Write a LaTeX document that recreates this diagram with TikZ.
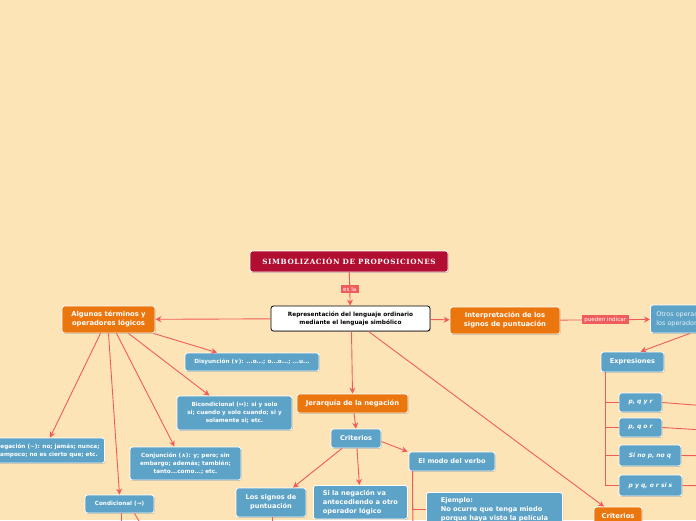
\documentclass[tikz,border=0pt]{standalone}
\usepackage{fontspec}
\setmainfont{DejaVu Sans}
\newfontfamily\titlefont[LetterSpace=8]{DejaVu Serif}
\usepackage{tikz}
\usetikzlibrary{arrows.meta,shadows}
\definecolor{paper}{RGB}{253,228,183}
\definecolor{topicorange}{RGB}{236,118,14}
\definecolor{subblue}{RGB}{93,163,199}
\definecolor{linkred}{RGB}{240,92,92}
\definecolor{titlered}{RGB}{178,14,50}

\begin{document}
\begin{tikzpicture}[
    x=1pt, y=-1pt,
    >={Stealth[length=6pt,width=6pt]},
    box/.style={rectangle, draw=white, line width=0.8pt, rounded corners=2.5pt, text=white, align=center, inner sep=2pt,
        drop shadow={shadow xshift=0.6pt, shadow yshift=-0.8pt, opacity=0.25, fill=black}},
    topic/.style={box, fill=topicorange, font=\bfseries\fontsize{6.8}{9}\selectfont},
    sub/.style={box, fill=subblue, font=\bfseries\fontsize{5.7}{7.8}\selectfont},
    bigsub/.style={box, fill=subblue, font=\bfseries\fontsize{6.6}{9}\selectfont},
    item/.style={box, fill=subblue, font=\bfseries\itshape\fontsize{6}{7}\selectfont},
    tag/.style={rectangle, fill=linkred, text=white, font=\fontsize{5.6}{6}\selectfont, inner xsep=2.5pt, inner ysep=1.8pt},
    link/.style={draw=linkred, line width=0.9pt}
]
    \clip (0,0) rectangle (696,520);
    \fill[paper] (0,0) rectangle (696,520);

    % Title and root
    \node[box, fill=titlered, minimum width=198pt, minimum height=21pt,
        font=\titlefont\bfseries\fontsize{7.2}{8}\selectfont] (title) at (349,261.5) {SIMBOLIZACIÓN DE PROPOSICIONES};
    \node[box, fill=white, draw=black, text=black, minimum width=159pt, minimum height=25pt,
        font=\bfseries\fontsize{5.8}{7.6}\selectfont] (main) at (350.5,318.5) {Representación del lenguaje ordinario\\mediante el lenguaje simbólico};
    \draw[link, ->] (title) -- node[tag] {es la} (main);

    % Operadores
    \node[topic, minimum width=93pt, minimum height=27pt] (algunos) at (108.5,319.5) {Algunos términos y\\operadores lógicos};
    \node[sub, minimum width=134pt, minimum height=18pt] (disy) at (252,362) {Disyunción (∨): ...o...; o...o...; ...u...};
    \node[sub, minimum width=115pt, minimum height=34pt] (bicond) at (234.5,413) {Bicondicional (↔): si y solo\\si; cuando y solo cuando; si y\\solamente si; etc.};
    \node[sub, anchor=east, minimum height=25pt, inner xsep=5pt] (negac) at (105,450.5) {Negación (∼): no; jamás; nunca;\\tampoco; no es cierto que; etc.};
    \node[sub, minimum width=111pt, minimum height=33pt] (conj) at (185.5,463.5) {Conjunción (∧): y; pero; sin\\embargo; además; también;\\tanto...como...; etc.};
    \node[sub, minimum width=69pt, minimum height=18pt] (condic) at (119.5,504) {Condicional (→)};
    \coordinate (condicOutA) at (121,540);
    \coordinate (condicOutB) at (150,540);

    \draw[link, ->] (main) -- (algunos);
    \draw[link, ->] ([xshift=-2pt]algunos.south east) -- ([xshift=-35pt]disy.north);
    \draw[link, ->] ([xshift=20pt]algunos.south) -- ([xshift=-25pt]bicond.north);
    \draw[link, ->] ([xshift=-8pt]algunos.south) -- ([xshift=-55pt]negac.north east);
    \draw[link, ->] ([xshift=8pt]algunos.south) -- ([xshift=-11pt]conj.north);
    \draw[link, ->] (algunos.south) -- (condic.north);
    \draw[link] ([xshift=1.5pt]condic.south) -- (condicOutA);
    \draw[link] ([xshift=15pt]condic.south) -- (condicOutB);

    % Jerarquia de la negacion
    \node[topic, minimum width=111pt, minimum height=19pt] (jerarq) at (352.5,403.5) {Jerarquía de la negación};
    \node[bigsub, minimum width=50pt, minimum height=19pt] (crit) at (356,438.5) {Criterios};
    \node[bigsub, minimum width=86pt, minimum height=19pt] (modo) at (452,461.5) {El modo del verbo};
    \node[bigsub, minimum width=70pt, minimum height=29pt] (signos) at (271,502.5) {Los signos de\\puntuación};
    \node[bigsub, anchor=north west, align=left, minimum width=94pt, inner xsep=5pt, inner ysep=4.5pt] (sineg) at (313,485) {Si la negación va\\antecediendo a otro\\operador lógico};
    \node[bigsub, anchor=north west, align=left, minimum width=136pt, inner xsep=6pt, inner ysep=5pt] (ejemplo) at (426,492) {Ejemplo:\\No ocurre que tenga miedo\\porque haya visto la película};
    \coordinate (signosOut) at (272,540);
    \coordinate (modoOut) at (413,540);

    \draw[link, ->] ([xshift=1pt]main.south) -- (jerarq.north);
    \draw[link, ->] ([xshift=1.5pt]jerarq.south) -- (crit.north);
    \draw[link, ->] ([yshift=-3pt]crit.east) -- ([xshift=-1pt]modo.north west);
    \draw[link, ->] ([xshift=-14pt]crit.south) -- ([xshift=22pt]signos.north);
    \draw[link, ->] ([xshift=1pt]crit.south) -- ([xshift=-1pt]sineg.north);
    \draw[link] ([xshift=4pt]modo.south west) -- (modoOut);
    \draw[link] ([xshift=4pt]modo.south west) |- (ejemplo.west);
    \draw[link] ([xshift=1pt]signos.south) -- (signosOut);

    % Signos de puntuacion
    \node[topic, minimum width=110pt, minimum height=27pt] (interp) at (505,320.5) {Interpretación de los\\signos de puntuación};
    \node[box, fill=subblue, anchor=west, align=left, text width=108pt, minimum height=28pt, inner xsep=6pt,
        text=white!85!subblue, font=\fontsize{6.4}{9}\selectfont] (otros) at (650,319) {Otros operadores\\los operadores};
    \node[bigsub, minimum width=63pt, minimum height=20pt] (expres) at (632.5,362) {Expresiones};
    \node[item, minimum width=43pt, minimum height=19pt] (pqr) at (640.5,402.5) {p, q y r};
    \node[item, minimum width=43pt, minimum height=19pt] (pqor) at (640.5,427.5) {p, q o r};
    \node[item, minimum width=62pt, minimum height=21pt] (sinop) at (650,455.5) {Si no p, no q};
    \node[item, minimum width=63pt, minimum height=21pt] (pyq) at (650.5,485.5) {p y q, o r si s};
    \node[topic, minimum width=48pt, minimum height=18pt] (critR) at (618,516) {Criterios};
    \coordinate (pqrOut) at (720,407);
    \coordinate (pqorOut) at (720,431);
    \coordinate (sinopOut) at (720,456);
    \coordinate (pyqOut) at (720,486);

    \draw[link, ->] (main) -- (interp);
    \draw[link, ->] (interp) -- node[tag] {pueden indicar} (otros);
    \draw[link, ->] ([xshift=40pt]otros.south west) -- ([xshift=8pt]expres.north);
    \draw[link] ([xshift=5pt]expres.south west) |- (pqr.west);
    \draw[link] ([xshift=5pt]expres.south west) |- (pqor.west);
    \draw[link] ([xshift=5pt]expres.south west) |- (sinop.west);
    \draw[link] ([xshift=5pt]expres.south west) |- (pyq.west);
    \draw[link] (pqr.east) -- (pqrOut);
    \draw[link] (pqor.east) -- (pqorOut);
    \draw[link] (sinop.east) -- (sinopOut);
    \draw[link] (pyq.east) -- (pyqOut);
    \draw[link, ->] ([xshift=18pt]main.south) -- ([xshift=-14pt]critR.north);
\end{tikzpicture}
\end{document}
